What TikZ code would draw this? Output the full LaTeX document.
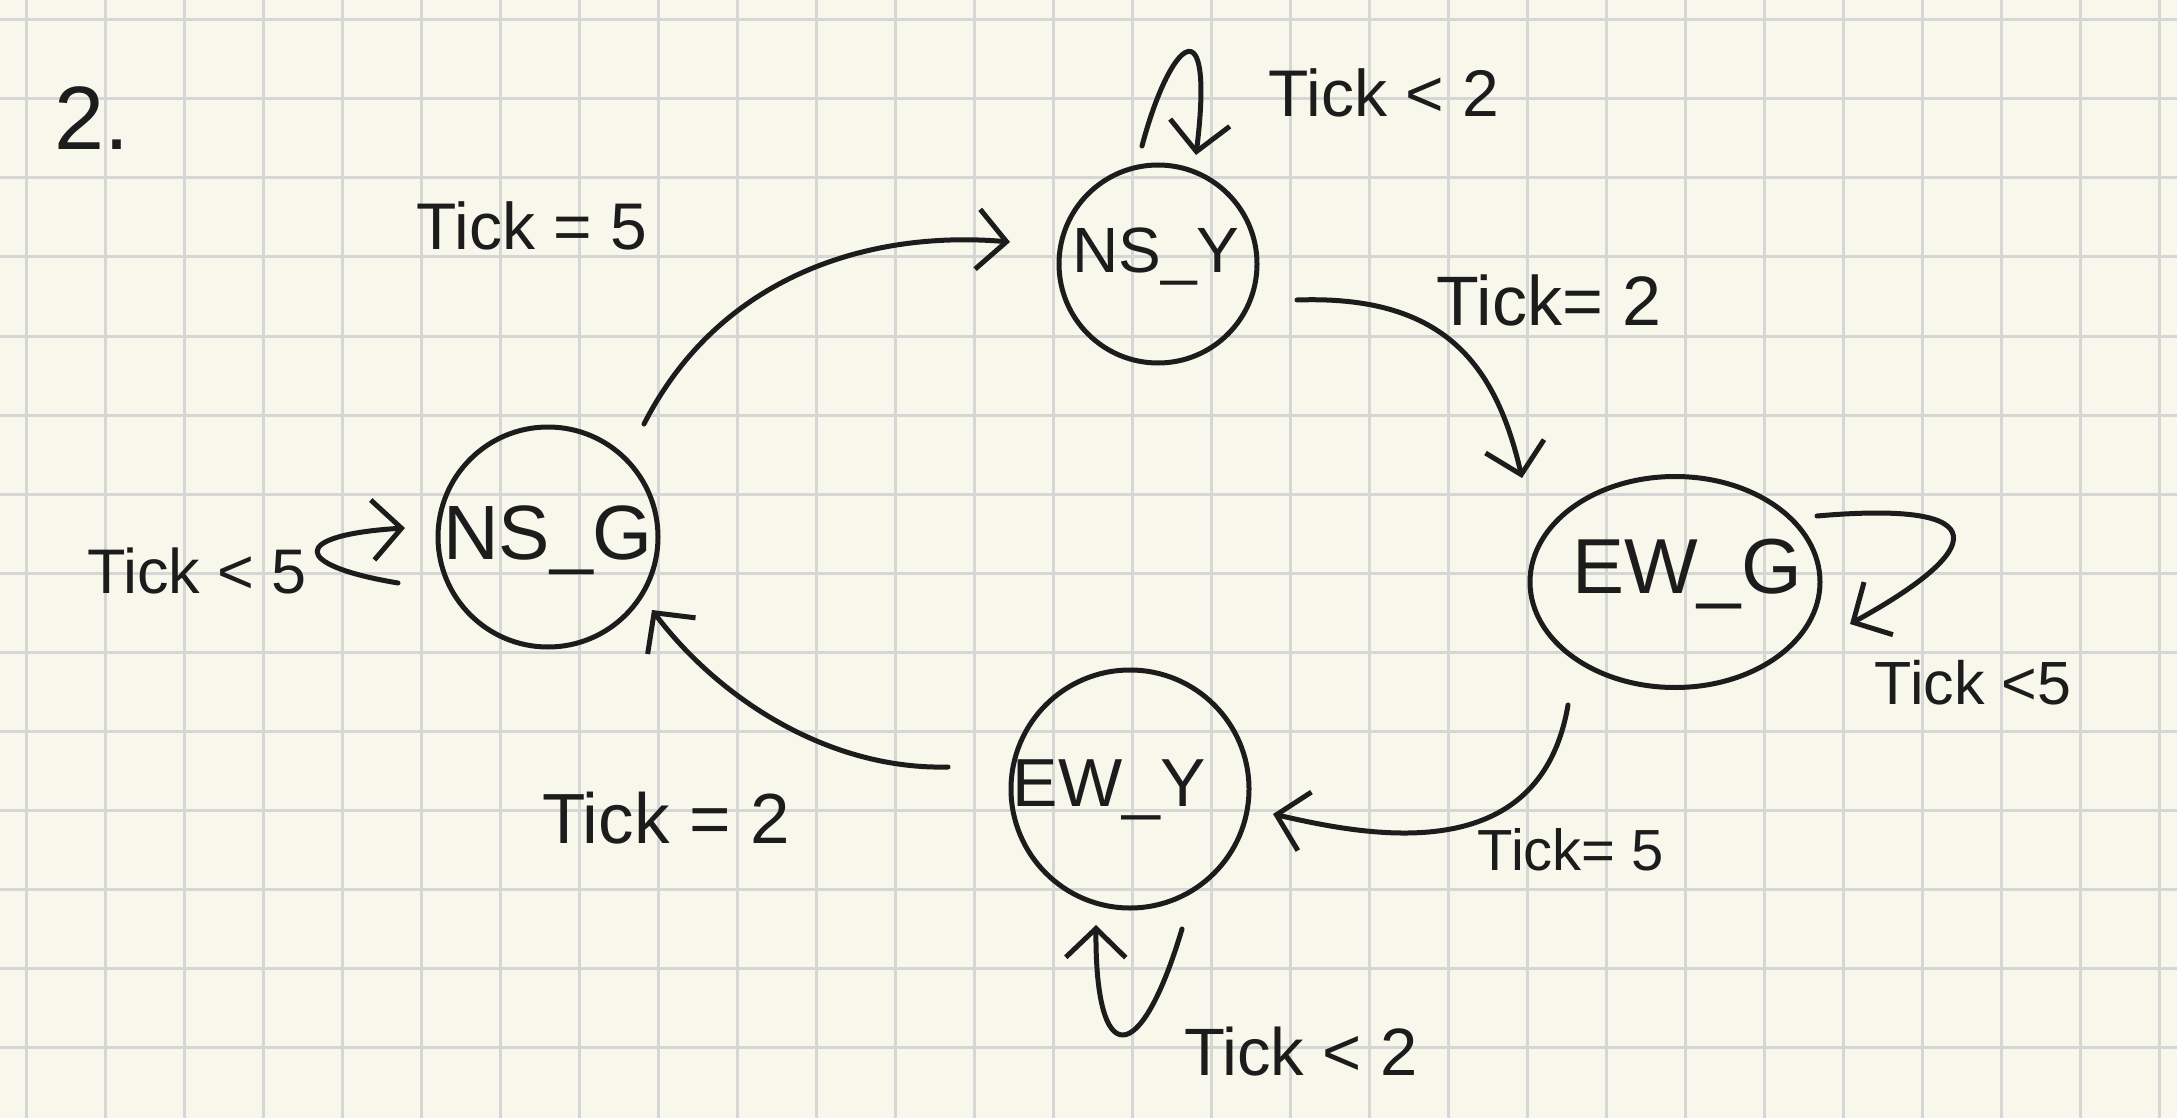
\documentclass[tikz,border=0pt]{standalone}
\usepackage{fontspec}
\setmainfont{Liberation Sans}
\usetikzlibrary{arrows.meta,calc,shapes.geometric}
\newcommand\fs[1]{\fontsize{#1}{#1}\selectfont}
\definecolor{paper}{HTML}{F8F7EC}
\definecolor{gridc}{HTML}{D6D6D4}
\definecolor{ink}{HTML}{1C1C1C}
\begin{document}
\begin{tikzpicture}[x=1pt,y=-1pt,
  inkline/.style={draw=ink, line width=5pt, line cap=round, line join=round},
  state/.style={inkline, circle, inner sep=0pt},
  lbl/.style={text=ink, inner sep=0pt, anchor=center},
  tr/.style={inkline, -{Straight Barb[length=29pt,width=60pt]}},
]
\fill[paper] (0,0) rectangle (2177,1118);
\useasboundingbox (0,0) rectangle (2177,1118);
\foreach \i in {0,...,27} \draw[gridc, line width=3pt] ({26+79*\i},0) -- ({26+79*\i},1118);
\foreach \j in {0,...,13} \draw[gridc, line width=3pt] (0,{20+79*\j}) -- (2177,{20+79*\j});

% states
\node[state, minimum size=198pt,
  label={[lbl, xshift=-2pt, yshift=7pt]center:\fs{64}NS\_Y}] (NSY) at (1158,264) {};
\node[state, minimum size=220pt,
  label={[lbl, yshift=-3pt]center:\fs{77}NS\_G}] (NSG) at (548,537) {};
\node[inkline, ellipse, inner sep=0pt, minimum width=290pt, minimum height=211pt,
  label={[lbl, xshift=12pt, yshift=8pt]center:\fs{78}EW\_G}] (EWG) at (1675,582) {};
\node[state, minimum size=238pt,
  label={[lbl, xshift=-21pt, yshift=-1pt]center:\fs{68}EW\_Y}] (EWY) at (1130,789) {};

% heading and edge labels
\node[lbl] (num) at (92,118) {\fs{90}2.};
\node[lbl] (l1) at (532,226) {\fs{66}Tick = 5};
\node[lbl] (l2) at (1384,93) {\fs{66}Tick < 2};
\node[lbl] (l3) at (1549,300) {\fs{70}Tick= 2};
\node[lbl] (l4) at (197,571) {\fs{63}Tick < 5};
\node[lbl] (l5) at (1973,683) {\fs{61}Tick <5};
\node[lbl] (l6) at (666,818) {\fs{71}Tick = 2};
\node[lbl] (l7) at (1571,850) {\fs{58}Tick= 5};
\node[lbl] (l8) at (1301,1052) {\fs{67}Tick < 2};

% transitions
\draw[tr] ($(NSG)+(96,-113)$) .. controls +(76,-149) and +(-140,-12) .. ($(NSY)+(-148,-22)$);
\draw[tr] ($(NSY)+(139,36)$) .. controls +(143,-5) and +(-27,-118) .. ($(EWG)+(-153,-104)$);
\draw[tr] ($(EWG)+(-107,123)$) .. controls +(-28,165) and +(95,22) .. ($(EWY)+(143,25)$);
\draw[tr] ($(EWY)+(-182,-22)$) .. controls +(-118,3) and +(68,90) .. ($(NSG)+(104,73)$);

% self loops
\draw[tr] ($(NSY)+(-16,-118)$) .. controls +(28,-106) and +(19,-155) .. ($(NSY)+(38,-109)$);
\draw[tr] ($(NSG)+(-150,46)$) .. controls +(-108,-18) and +(-115,7) .. ($(NSG)+(-143,-9)$);
\draw[tr] ($(EWG)+(142,-66)$) .. controls +(183,-16) and +(135,-74) .. ($(EWG)+(175,42)$);
\draw[tr] ($(EWY)+(52,140)$) .. controls +(-42,141) and +(-1,145) .. ($(EWY)+(-34,136)$);
\end{tikzpicture}
\end{document}
